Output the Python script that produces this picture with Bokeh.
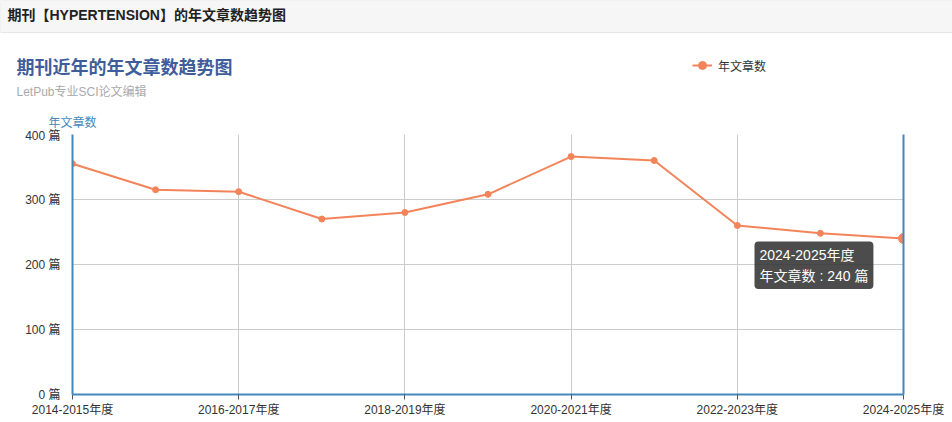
import numpy as np
from bokeh.plotting import figure
from bokeh.layouts import column
from bokeh.models import (Range1d, FixedTicker, PrintfTickFormatter, LinearAxis, Label,
                          Legend, LegendItem, ColumnDataSource)
from bokeh.embed import file_html
from bokeh.resources import INLINE

# ---------------- data ----------------
categories = ["2014-2015年度", "2015-2016年度", "2016-2017年度", "2017-2018年度",
              "2018-2019年度", "2019-2020年度", "2020-2021年度", "2021-2022年度",
              "2022-2023年度", "2023-2024年度", "2024-2025年度"]
articles = [355, 315, 312, 270, 280, 308, 366, 360, 260, 248, 240]
y_ticks = [0, 100, 200, 300, 400]
unit = "篇"
series_name = "年文章数"
page_title = "期刊【HYPERTENSION】的年文章数趋势图"
chart_title = "期刊近年的年文章数趋势图"
chart_subtitle = "LetPub专业SCI论文编辑"
highlight_index = 10

FONT = "Liberation Sans, Noto Sans CJK SC"
AXIS_BLUE = "#4488bb"
LINE_COLOR = "#f3845a"
W = 952
HEAD_H = 128

n = len(categories)
src = ColumnDataSource(dict(x=list(range(n)), y=articles))
hl = ColumnDataSource(dict(x=[highlight_index], y=[articles[highlight_index]]))

# ---------------- header figure (titles, legend) ----------------
h = figure(width=W, height=HEAD_H, x_range=Range1d(0, 1), y_range=Range1d(0, 1),
           output_backend="svg", toolbar_location=None, x_axis_location=None, y_axis_location=None,
           min_border=0, frame_align=False)
h.min_border_left = h.min_border_right = h.min_border_top = h.min_border_bottom = 0
h.outline_line_color = None
h.xgrid.visible = False
h.ygrid.visible = False
h.background_fill_color = "white"
h.border_fill_color = "white"

# legend proxy renderers (no visible data)
proxy = ColumnDataSource(dict(x=np.array([np.nan]), y=np.array([np.nan])))
hl_line = h.line(x="x", y="y", source=proxy, line_color=LINE_COLOR, line_width=2)
hl_dot = h.scatter(x="x", y="y", source=proxy, size=8, fill_color=LINE_COLOR, line_color=LINE_COLOR)
legend = Legend(items=[LegendItem(label=series_name, renderers=[hl_line, hl_dot])], location=(692, 53),
                padding=0, margin=0, spacing=0, border_line_color=None, background_fill_alpha=0,
                glyph_width=20, glyph_height=20, label_standoff=6,
                label_text_font=FONT, label_text_font_size="12px", label_text_color="#333333")
h.add_layout(legend)

# padding order: (left, right, top, bottom)
h.add_layout(Label(x=0, y=0, x_units="canvas", y_units="canvas", text=page_title,
                   text_font=FONT, text_font_size="14px", text_font_style="bold", text_color="#222222",
                   text_baseline="top", background_fill_color="#f6f6f6", background_fill_alpha=1,
                   border_line_color="#e6e6e6", padding=(7, 700, 6, 10)))
h.add_layout(Label(x=16, y=67, x_units="canvas", y_units="canvas", text=chart_title,
                   text_font=FONT, text_font_size="18px", text_font_style="bold", text_color="#3e5d9a",
                   text_baseline="middle"))
h.add_layout(Label(x=16, y=91, x_units="canvas", y_units="canvas", text=chart_subtitle,
                   text_font=FONT, text_font_size="12px", text_color="#aaaaaa",
                   text_baseline="middle"))
h.add_layout(Label(x=48, y=122, x_units="canvas", y_units="canvas", text=series_name,
                   text_font=FONT, text_font_size="12px", text_color=AXIS_BLUE,
                   text_baseline="middle"))

# ---------------- chart figure ----------------
p = figure(width=W, height=422 - HEAD_H, x_range=Range1d(0, n - 1), y_range=Range1d(y_ticks[0], y_ticks[-1]),
           output_backend="svg", toolbar_location=None, frame_align=False,
           min_border_left=72, min_border_right=49, min_border_top=6, min_border_bottom=28)
p.outline_line_color = None
p.background_fill_color = "white"
p.border_fill_color = "white"

# x axis
xt = list(range(0, n, 2))
p.xaxis.ticker = FixedTicker(ticks=xt)
p.xaxis.major_label_overrides = {i: categories[i] for i in range(n)}
p.xaxis.axis_line_color = AXIS_BLUE
p.xaxis.axis_line_width = 2
p.xaxis.major_tick_line_color = "#555555"
p.xaxis.major_tick_out = 5
p.xaxis.major_tick_in = 0
p.xaxis.minor_tick_line_color = None
p.xaxis.major_label_standoff = 3
p.xaxis.major_label_text_font = FONT
p.xaxis.major_label_text_font_size = "12px"
p.xaxis.major_label_text_color = "#333333"

# y axis
p.yaxis.ticker = FixedTicker(ticks=y_ticks)
p.yaxis.formatter = PrintfTickFormatter(format="%d " + unit)
p.yaxis.axis_line_color = AXIS_BLUE
p.yaxis.axis_line_width = 2
p.yaxis.major_tick_line_color = None
p.yaxis.minor_tick_line_color = None
p.yaxis.major_label_standoff = 6
p.yaxis.major_label_text_font = FONT
p.yaxis.major_label_text_font_size = "12px"
p.yaxis.major_label_text_color = "#333333"

right = LinearAxis(ticker=FixedTicker(ticks=[]), axis_line_color=AXIS_BLUE, axis_line_width=2,
                   major_tick_line_color=None, minor_tick_line_color=None,
                   major_label_text_font_size="0px")
p.add_layout(right, "right")

# grids
p.xgrid.ticker = FixedTicker(ticks=xt)
p.ygrid.ticker = FixedTicker(ticks=y_ticks)
p.xgrid.grid_line_color = "#cccccc"
p.ygrid.grid_line_color = "#cccccc"

# series
p.line(x="x", y="y", source=src, line_color=LINE_COLOR, line_width=2)
p.scatter(x="x", y="y", source=src, size=6, fill_color=LINE_COLOR, line_color=LINE_COLOR)
p.scatter(x="x", y="y", source=hl, size=10, fill_color=LINE_COLOR, line_color=LINE_COLOR)

# tooltip
tip = Label(x=highlight_index, y=articles[highlight_index], x_offset=-149, y_offset=-3,
            text=f"{categories[highlight_index]}\n{series_name} : {articles[highlight_index]} {unit}",
            text_font=FONT, text_font_size="14px", text_color="white",
            text_align="left", text_baseline="top", text_line_height=1.35,
            background_fill_color="#333333", background_fill_alpha=0.88,
            border_radius=4, padding=5)
p.add_layout(tip)

layout = column(h, p, spacing=0)
open("out.html", "w").write(file_html(layout, INLINE))
